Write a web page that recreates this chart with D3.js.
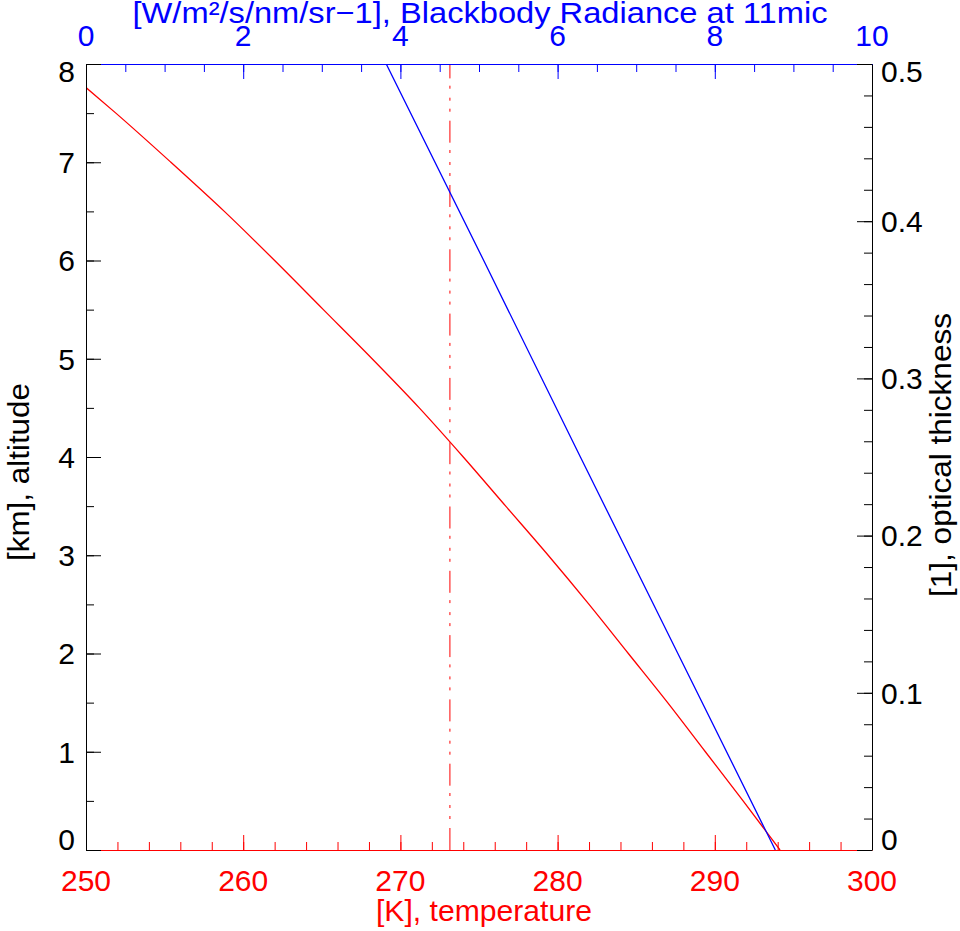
<!DOCTYPE html>
<html>
<head>
<meta charset="utf-8">
<script src="https://cdn.jsdelivr.net/npm/d3@7"></script>
<style>
  html, body { margin: 0; padding: 0; background: #fff; }
  svg { display: block; }
  text { font-family: "Liberation Sans", Arial, Helvetica, sans-serif; font-size: 30px; }
</style>
</head>
<body>
<svg id="chart" width="960" height="931"></svg>
<script>
// ---- data ----
const tempAltitudes = [0, 0.5, 1.0, 1.5, 2.0, 2.5, 3.0, 3.5, 4.0, 4.5, 5.0, 5.5, 6.0, 6.5, 7.0, 7.5, 7.76];
const temperatures  = [294.15, 291.8, 289.4, 287.0, 284.5, 282.0, 279.4, 276.7, 274.0, 271.2, 268.2, 265.1, 262.0, 258.8, 255.4, 251.9, 250.0];

const radAltitudes = [0, 2, 4, 6, 8];
const radiances    = [8.77, 7.53, 6.29, 5.06, 3.82];

const freezingTemp = 273.15;

const tempTicks = [250, 260, 270, 280, 290, 300];
const radTicks  = [0, 2, 4, 6, 8, 10];
const altTicks  = [0, 1, 2, 3, 4, 5, 6, 7, 8];
const tauTicks  = [0, 0.1, 0.2, 0.3, 0.4, 0.5];

const tempMinor = d3.range(250, 300.001, 2);
const radMinor  = d3.range(0, 10.001, 0.5);
const altMinor  = d3.range(0, 8.001, 0.5);
const tauMinor  = d3.range(0, 0.5001, 0.02);

// ---- layout ----
const L = 86, R = 872, T = 64, B = 850;
const RED = "#ff0000", BLUE = "#0000ff", BLACK = "#000000";

const x  = d3.scaleLinear().domain([250, 300]).range([L, R]);
const xT = d3.scaleLinear().domain([0, 10]).range([L, R]);
const y  = d3.scaleLinear().domain([0, 8]).range([B, T]);
const yR = d3.scaleLinear().domain([0, 0.5]).range([B, T]);

const svg = d3.select("#chart");

svg.append("defs").append("clipPath").attr("id", "plotclip")
  .append("rect").attr("x", L).attr("y", T).attr("width", R - L).attr("height", B - T);

// ---- curves ----
const plot = svg.append("g").attr("clip-path", "url(#plotclip)");

// freezing line (dash-dot-dot-dot), drawn from bottom to top
plot.append("line")
  .attr("x1", x(freezingTemp)).attr("x2", x(freezingTemp))
  .attr("y1", y(0)).attr("y2", y(8))
  .attr("stroke", RED).attr("stroke-width", 1)
  .attr("stroke-dasharray", "22,9,3,8,3,9,3,7.3");

plot.append("path")
  .datum(d3.zip(temperatures, tempAltitudes))
  .attr("fill", "none").attr("stroke", RED).attr("stroke-width", 1.3)
  .attr("d", d3.line().x(d => x(d[0])).y(d => y(d[1])).curve(d3.curveMonotoneY));

plot.append("path")
  .datum(d3.zip(radiances, radAltitudes))
  .attr("fill", "none").attr("stroke", BLUE).attr("stroke-width", 1.3)
  .attr("d", d3.line().x(d => xT(d[0])).y(d => y(d[1])));

// ---- axes ----
function styleAxis(g, color) {
  g.selectAll("path, line").attr("stroke", color);
  g.selectAll("text").remove();
}

// bottom (temperature, red)
svg.append("g").attr("transform", `translate(0,${B})`)
  .call(d3.axisBottom(x).tickValues(tempMinor).tickSize(-8).tickSizeOuter(0).tickFormat(""))
  .call(g => styleAxis(g, RED));
svg.append("g").attr("transform", `translate(0,${B})`)
  .call(d3.axisBottom(x).tickValues(tempTicks).tickSize(-15).tickSizeOuter(0).tickFormat(""))
  .call(g => { styleAxis(g, RED); g.select(".domain").remove(); });

// top (radiance, blue)
svg.append("g").attr("transform", `translate(0,${T})`)
  .call(d3.axisTop(xT).tickValues(radMinor).tickSize(-8).tickSizeOuter(0).tickFormat(""))
  .call(g => styleAxis(g, BLUE));
svg.append("g").attr("transform", `translate(0,${T})`)
  .call(d3.axisTop(xT).tickValues(radTicks).tickSize(-15).tickSizeOuter(0).tickFormat(""))
  .call(g => { styleAxis(g, BLUE); g.select(".domain").remove(); });

// left (altitude, black)
svg.append("g").attr("transform", `translate(${L},0)`)
  .call(d3.axisLeft(y).tickValues(altMinor).tickSize(-8).tickSizeOuter(0).tickFormat(""))
  .call(g => styleAxis(g, BLACK));
svg.append("g").attr("transform", `translate(${L},0)`)
  .call(d3.axisLeft(y).tickValues(altTicks).tickSize(-15).tickSizeOuter(0).tickFormat(""))
  .call(g => { styleAxis(g, BLACK); g.select(".domain").remove(); });

// right (optical thickness, black)
svg.append("g").attr("transform", `translate(${R},0)`)
  .call(d3.axisRight(yR).tickValues(tauMinor).tickSize(-8).tickSizeOuter(0).tickFormat(""))
  .call(g => styleAxis(g, BLACK));
svg.append("g").attr("transform", `translate(${R},0)`)
  .call(d3.axisRight(yR).tickValues(tauTicks).tickSize(-15).tickSizeOuter(0).tickFormat(""))
  .call(g => { styleAxis(g, BLACK); g.select(".domain").remove(); });

// ---- tick labels ----
const capHalf = 10.8;
const clampY = v => Math.max(T + 7, Math.min(B - 10.5, v));

svg.append("g").selectAll("text").data(tempTicks).join("text")
  .attr("x", d => x(d)).attr("y", B + 41).attr("text-anchor", "middle")
  .attr("fill", RED).text(d => d3.format("d")(d));

svg.append("g").selectAll("text").data(radTicks).join("text")
  .attr("x", d => xT(d)).attr("y", T - 18).attr("text-anchor", "middle")
  .attr("fill", BLUE).text(d => d3.format("d")(d));

svg.append("g").selectAll("text").data(altTicks).join("text")
  .attr("x", L - 11).attr("y", d => clampY(y(d)) + capHalf).attr("text-anchor", "end")
  .attr("fill", BLACK).text(d => d3.format("d")(d));

svg.append("g").selectAll("text").data(tauTicks).join("text")
  .attr("x", R + 9).attr("y", d => clampY(yR(d)) + capHalf).attr("text-anchor", "start")
  .attr("fill", BLACK).text(d => d === 0 ? "0" : d3.format(".1f")(d));

// ---- axis titles ----
svg.append("text").attr("x", 480).attr("y", 23).attr("text-anchor", "middle")
  .attr("textLength", 695).attr("lengthAdjust", "spacingAndGlyphs")
  .attr("fill", BLUE).text("[W/m\u00B2/s/nm/sr\u22121], Blackbody Radiance at 11mic");

svg.append("text").attr("x", 484).attr("y", 921).attr("text-anchor", "middle")
  .attr("textLength", 216).attr("lengthAdjust", "spacingAndGlyphs")
  .attr("fill", RED).text("[K], temperature");

svg.append("text").attr("transform", `translate(29,472) rotate(-90)`)
  .attr("text-anchor", "middle")
  .attr("textLength", 178).attr("lengthAdjust", "spacingAndGlyphs")
  .attr("fill", BLACK).text("[km], altitude");

svg.append("text").attr("transform", `translate(951,455) rotate(-90)`)
  .attr("text-anchor", "middle")
  .attr("textLength", 284).attr("lengthAdjust", "spacingAndGlyphs")
  .attr("fill", BLACK).text("[1], optical thickness");
</script>
</body>
</html>
